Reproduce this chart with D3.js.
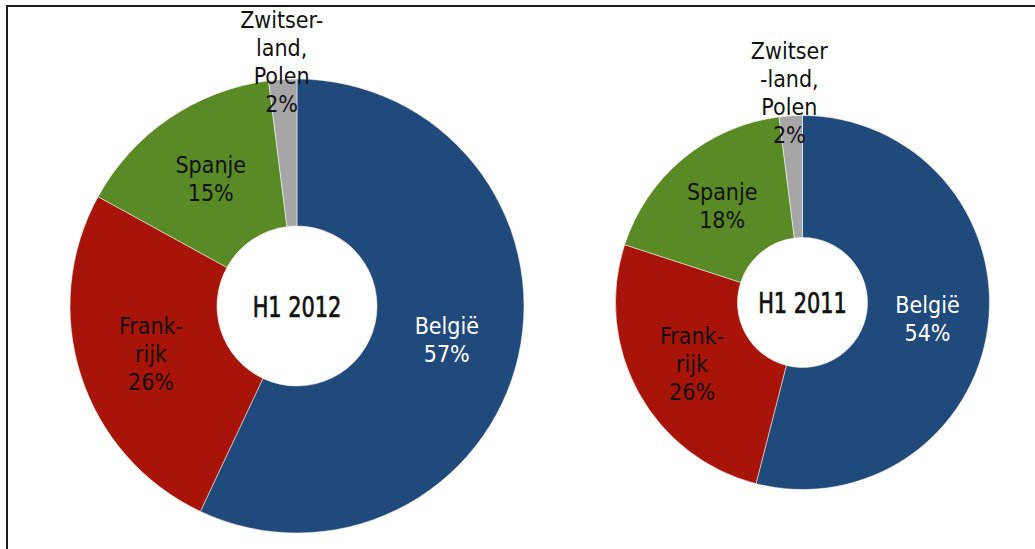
<!DOCTYPE html>
<html>
<head>
<meta charset="utf-8">
<script src="https://cdn.jsdelivr.net/npm/d3@7"></script>
<style>
  html, body { margin: 0; padding: 0; background: #fff; }
  svg { display: block; }
  text { font-family: "DejaVu Sans Condensed", "DejaVu Sans", sans-serif; }
</style>
</head>
<body>
<svg id="chart" width="1035" height="549"></svg>
<script>
// Data
const categories = ["België", "Frankrijk", "Spanje", "Zwitserland, Polen"];
const values2012 = [57, 26, 15, 2];
const values2011 = [54, 26, 18, 2];
const labels2012 = [["België", "57%"], ["Frank-", "rijk", "26%"], ["Spanje", "15%"], ["Zwitser-", "land,", "Polen", "2%"]];
const labels2011 = [["België", "54%"], ["Frank-", "rijk", "26%"], ["Spanje", "18%"], ["Zwitser", "-land,", "Polen", "2%"]];
const titles = ["H1 2012", "H1 2011"];

const colors = d3.scaleOrdinal().domain(categories).range(["#214A7C", "#A91409", "#5A8A25", "#A6A6A6"]);
const textColors = d3.scaleOrdinal().domain(categories).range(["#ffffff", "#111111", "#111111", "#111111"]);

const svg = d3.select("#chart");

// frame
svg.append("rect")
  .attr("x", 7).attr("y", 6).attr("width", 1200).attr("height", 700)
  .attr("fill", "none").attr("stroke", "#1a1a1a").attr("stroke-width", 2);

const charts = [
  { title: titles[0], values: values2012, labels: labels2012, cx: 297, cy: 306, rOut: 227, rIn: 80, outerLabelR: 245 },
  { title: titles[1], values: values2011, labels: labels2011, cx: 802.5, cy: 302.5, rOut: 187, rIn: 65, outerLabelR: 210 }
];

const pie = d3.pie().sort(null).value(d => d.value);

charts.forEach(c => {
  const data = categories.map((cat, i) => ({ cat, value: c.values[i], label: c.labels[i] }));
  const arcs = pie(data);
  const arc = d3.arc().innerRadius(c.rIn).outerRadius(c.rOut);
  const g = svg.append("g").attr("transform", `translate(${c.cx},${c.cy})`);

  g.selectAll("path.slice").data(arcs).enter().append("path")
    .attr("class", "slice")
    .attr("d", arc)
    .attr("fill", d => colors(d.data.cat))
    .attr("stroke", "#ffffff").attr("stroke-width", 0.5);

  const fs = 23, lh = 28;
  arcs.forEach((d, i) => {
    let pos;
    if (i === arcs.length - 1) {
      const a = (d.startAngle + d.endAngle) / 2;
      pos = [Math.sin(a) * c.outerLabelR, -Math.cos(a) * c.outerLabelR];
    } else {
      pos = arc.centroid(d);
    }
    const lines = d.data.label;
    const n = lines.length;
    const cap = 0.73 * fs;
    const totalH = (n - 1) * lh + cap;
    const firstBase = pos[1] - totalH / 2 + cap;
    const t = g.append("text")
      .attr("text-anchor", "middle")
      .attr("font-size", fs)
      .attr("fill", textColors(d.data.cat));
    lines.forEach((ln, k) => {
      t.append("tspan").attr("x", pos[0]).attr("y", firstBase + k * lh).text(ln);
    });
  });

  g.append("text")
    .attr("text-anchor", "middle")
    .attr("font-size", 29)
    .attr("fill", "#111")
    .attr("stroke", "#111")
    .attr("stroke-width", 0.7)
    .attr("transform", "translate(0,10.5) scale(0.8,1)")
    .text(c.title);
});
</script>
</body>
</html>
